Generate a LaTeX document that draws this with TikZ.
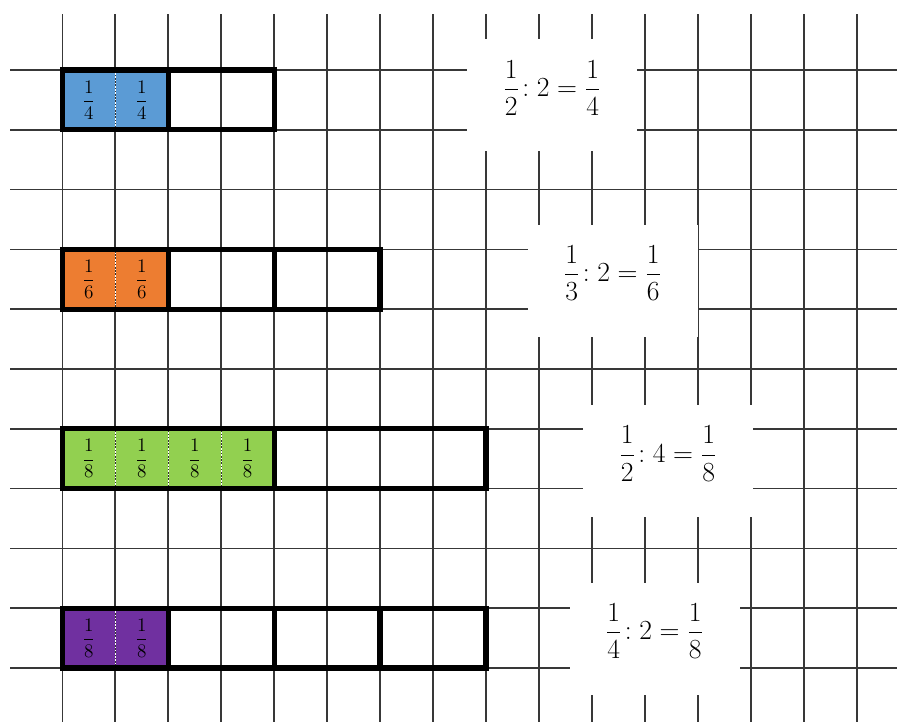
\documentclass[tikz,border=0pt]{standalone}
\usepackage{amsmath}
\definecolor{partblue}{RGB}{91,155,213}
\definecolor{partorange}{RGB}{237,125,49}
\definecolor{partgreen}{RGB}{146,208,80}
\definecolor{partpurple}{RGB}{112,48,160}
\begin{document}
\begin{tikzpicture}[x=39.72pt,y=44.85pt,
  gridline/.style={line width=1.2pt,black!78},
  bar/.style={line width=3.9pt},
  cut/.style={line width=0.8pt,black!80,postaction={draw=white,line width=0.8pt,dash pattern=on 1.2pt off 1.2pt}},
  part/.style={font=\fontsize{14}{16}\selectfont},
  eqbox/.style={fill=white,minimum width=127.5pt,minimum height=84pt,inner sep=0pt},
  eq/.style={font=\fontsize{22}{26}\selectfont,yshift=5.6pt}]
\useasboundingbox (-1.1764,1.1706) rectangle (15.761,-10.903);

\foreach \r in {0,...,10}
  \draw[gridline] (-0.9875,-\r) -- (15.761,-\r);
\foreach \c in {0,...,15}
  \draw[gridline] (\c,0.936) -- (\c,-10.903);

\fill[partblue] (0,0) rectangle (2,-1);
\fill[partorange] (0,-3) rectangle (2,-4);
\fill[partgreen] (0,-6) rectangle (4,-7);
\fill[partpurple] (0,-9) rectangle (2,-10);
\draw[cut] (1,0) -- (1,-1);
\draw[cut] (1,-3) -- (1,-4);
\foreach \c in {1,2,3}
  \draw[cut] (\c,-6) -- (\c,-7);
\draw[cut] (1,-9) -- (1,-10);

\draw[bar] (0,0) rectangle (4,-1);
\draw[bar] (2,0) -- (2,-1);
\draw[bar] (0,-3) rectangle (6,-4);
\foreach \c in {2,4}
  \draw[bar] (\c,-3) -- (\c,-4);
\draw[bar] (0,-6) rectangle (8,-7);
\draw[bar] (4,-6) -- (4,-7);
\draw[bar] (0,-9) rectangle (8,-10);
\foreach \c in {2,4,6}
  \draw[bar] (\c,-9) -- (\c,-10);

\foreach \c in {0,1}{
  \node[part] (a\c) at (\c+0.5,-0.5) {$\dfrac{1}{4}$};
  \node[part] (b\c) at (\c+0.5,-3.5) {$\dfrac{1}{6}$};
  \node[part] (d\c) at (\c+0.5,-9.5) {$\dfrac{1}{8}$};
}
\foreach \c in {0,...,3}
  \node[part] (c\c) at (\c+0.5,-6.5) {$\dfrac{1}{8}$};

\node[eqbox] (box1) at (9.247,-0.426) {};
\node[eqbox] (box2) at (10.389,-3.520) {};
\node[eqbox] (box3) at (11.437,-6.538) {};
\node[eqbox] (box4) at (11.182,-9.507) {};
\node[eq] (eq1) at (box1) {$\dfrac{1}{2}\!:2=\dfrac{1}{4}$};
\node[eq] (eq2) at (box2) {$\dfrac{1}{3}\!:2=\dfrac{1}{6}$};
\node[eq] (eq3) at (box3) {$\dfrac{1}{2}\!:4=\dfrac{1}{8}$};
\node[eq] (eq4) at (box4) {$\dfrac{1}{4}\!:2=\dfrac{1}{8}$};
\end{tikzpicture}
\end{document}
